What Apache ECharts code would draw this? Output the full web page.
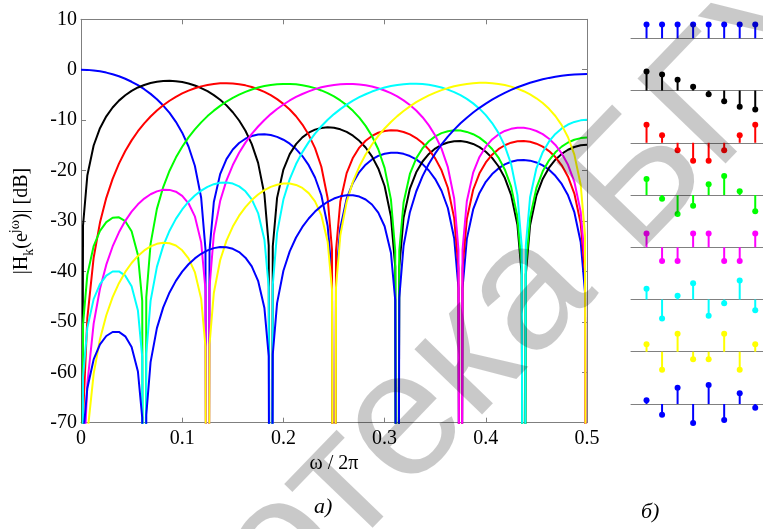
<!DOCTYPE html>
<html>
<head>
<meta charset="utf-8">
<script src="https://cdn.jsdelivr.net/npm/echarts@6/dist/echarts.min.js"></script>
<style>
html, body { margin: 0; padding: 0; background: #fff; }
#chart { width: 763px; height: 529px; }
</style>
</head>
<body>
<div id="chart"></div>
<script>
// normalized frequency w/2pi, extra points sit 0.002 either side of each notch
var freq = [0, 0.002,
  0.00625, 0.0125, 0.01875, 0.025, 0.03125, 0.0375, 0.04375, 0.05, 0.05625, 0.0605,
  0.0625, 0.0645,
  0.06875, 0.075, 0.08125, 0.0875, 0.09375, 0.1, 0.10625, 0.1125, 0.11875, 0.123,
  0.125, 0.127,
  0.13125, 0.1375, 0.14375, 0.15, 0.15625, 0.1625, 0.16875, 0.175, 0.18125, 0.1855,
  0.1875, 0.1895,
  0.19375, 0.2, 0.20625, 0.2125, 0.21875, 0.225, 0.23125, 0.2375, 0.24375, 0.248,
  0.25, 0.252,
  0.25625, 0.2625, 0.26875, 0.275, 0.28125, 0.2875, 0.29375, 0.3, 0.30625, 0.3105,
  0.3125, 0.3145,
  0.31875, 0.325, 0.33125, 0.3375, 0.34375, 0.35, 0.35625, 0.3625, 0.36875, 0.373,
  0.375, 0.377,
  0.38125, 0.3875, 0.39375, 0.4, 0.40625, 0.4125, 0.41875, 0.425, 0.43125, 0.4355,
  0.4375, 0.4395,
  0.44375, 0.45, 0.45625, 0.4625, 0.46875, 0.475, 0.48125, 0.4875, 0.49375, 0.498,
  0.5];

// |H_k| in dB, same layout as freq (null = no point there, -200 = notch floor)
var h0 = [0, null,
  -0.03, -0.14, -0.32, -0.57, -0.90, -1.30, -1.79, -2.39, -3.07, null,
  -3.86, null,
  -4.79, -5.86, -7.10, -8.57, -10.33, -12.48, -15.23, -19.04, -25.40, -35.57,
  -200, -35.83,
  -26.23, -20.70, -17.72, -15.82, -14.54, -13.68, -13.14, -12.86, -12.80, null,
  -12.95, null,
  -13.31, -13.88, -14.67, -15.74, -17.12, -18.93, -21.37, -24.90, -30.99, -40.97,
  -200, -41.08,
  -31.33, -25.58, -22.39, -20.30, -18.83, -17.80, -17.09, -16.66, -16.45, null,
  -16.46, null,
  -16.68, -17.12, -17.78, -18.72, -19.98, -21.68, -24.00, -27.42, -33.41, -43.33,
  -200, -43.37,
  -33.55, -27.71, -24.43, -22.24, -20.69, -19.57, -18.77, -18.26, -17.97, null,
  -17.89, null,
  -18.03, -18.39, -18.98, -19.84, -21.03, -22.65, -24.90, -28.25, -34.17, -44.04,
  -200];

var h1 = [-200, -30.87,
  -20.99, -15.03, -11.59, -9.24, -7.49, -6.13, -5.06, -4.19, -3.52, null,
  -3.02, null,
  -2.63, -2.38, -2.24, -2.20, -2.27, -2.44, -2.72, -3.13, -3.63, null,
  -4.25, null,
  -5.03, -5.96, -7.07, -8.43, -10.07, -12.11, -14.76, -18.48, -24.75, -34.85,
  -200, -35.06,
  -25.41, -19.80, -16.74, -14.76, -13.41, -12.49, -11.88, -11.54, -11.42, null,
  -11.52, null,
  -11.82, -12.34, -13.08, -14.10, -15.43, -17.19, -19.58, -23.06, -29.11, -39.06,
  -200, -39.13,
  -29.36, -23.57, -20.34, -18.20, -16.70, -15.63, -14.88, -14.42, -14.17, null,
  -14.14, null,
  -14.32, -14.72, -15.35, -16.26, -17.48, -19.14, -21.43, -24.81, -30.77, -40.67,
  -200, -40.69,
  -30.85, -24.97, -21.65, -19.43, -17.85, -16.70, -15.87, -15.32, -14.99, null,
  -14.88];

var h2 = [-200, -69.08,
  -49.28, -37.28, -30.31, -25.41, -21.65, -18.63, -16.13, -14.01, -12.20, null,
  -10.63, null,
  -9.27, -8.09, -7.04, -6.15, -5.37, -4.70, -4.14, -3.68, -3.30, null,
  -3.01, null,
  -2.81, -2.70, -2.67, -2.73, -2.87, -3.10, -3.42, -3.87, -4.40, null,
  -5.05, null,
  -5.84, -6.78, -7.89, -9.23, -10.87, -12.91, -15.54, -19.24, -25.50, -35.61,
  -200, -35.80,
  -26.13, -20.51, -17.44, -15.44, -14.08, -13.13, -12.50, -12.14, -12.00, null,
  -12.06, null,
  -12.34, -12.83, -13.55, -14.54, -15.85, -17.58, -19.95, -23.41, -29.43, -39.40,
  -200, -39.40,
  -29.63, -23.80, -20.54, -18.39, -16.85, -15.75, -14.98, -14.47, -14.19, null,
  -14.14, null,
  -14.30, -14.67, -15.25, -16.13, -17.32, -18.95, -21.21, -24.56, -30.47, -40.34,
  -200];

var h3 = [-200, -50.49,
  -40.68, -34.96, -31.95, -30.23, -29.36, -29.27, -30.04, -32.05, -36.75, -45.83,
  -200, -45.14,
  -34.54, -27.60, -23.26, -20.03, -17.43, -15.27, -13.42, -11.84, -10.44, null,
  -9.20, null,
  -8.12, -7.17, -6.31, -5.58, -4.94, -4.39, -3.92, -3.54, -3.24, null,
  -3.02, null,
  -2.87, -2.81, -2.82, -2.89, -3.07, -3.32, -3.65, -4.11, -4.65, null,
  -5.30, null,
  -6.09, -7.03, -8.15, -9.49, -11.13, -13.15, -15.78, -19.47, -25.72, -35.90,
  -200, -35.90,
  -26.32, -20.67, -17.58, -15.57, -14.19, -13.22, -12.58, -12.19, -12.02, null,
  -12.07, null,
  -12.33, -12.79, -13.47, -14.45, -15.72, -17.42, -19.77, -23.19, -29.17, -39.11,
  -200, -39.11,
  -29.31, -23.45, -20.15, -17.96, -16.38, -15.25, -14.43, -13.89, -13.56, null,
  -13.46];

var h4 = [-200, -82.05,
  -62.29, -50.34, -43.44, -38.66, -35.05, -32.24, -29.97, -28.15, -26.69, null,
  -25.55, null,
  -24.69, -24.12, -23.82, -23.83, -24.19, -25.02, -26.49, -29.08, -34.24, -43.59,
  -200, -43.11,
  -32.72, -26.05, -21.94, -18.90, -16.48, -14.46, -12.73, -11.26, -9.96, null,
  -8.80, null,
  -7.79, -6.90, -6.10, -5.40, -4.81, -4.29, -3.85, -3.49, -3.21, null,
  -3.01, null,
  -2.87, -2.81, -2.83, -2.92, -3.10, -3.34, -3.68, -4.12, -4.65, null,
  -5.29, null,
  -6.08, -7.00, -8.09, -9.42, -11.04, -13.04, -15.66, -19.33, -25.54, -35.70,
  -200, -35.70,
  -26.09, -20.41, -17.29, -15.26, -13.83, -12.83, -12.15, -11.72, -11.51, null,
  -11.52, null,
  -11.73, -12.15, -12.78, -13.70, -14.92, -16.58, -18.86, -22.23, -28.15, -38.01,
  -200];

var h5 = [-200, -61.01,
  -51.20, -45.50, -42.51, -40.83, -40.01, -40.00, -40.84, -42.95, -47.77, -56.94,
  -200, -56.33,
  -45.85, -39.09, -34.94, -31.92, -29.58, -27.71, -26.17, -24.96, -23.98, null,
  -23.22, null,
  -22.70, -22.41, -22.36, -22.58, -23.13, -24.11, -25.72, -28.43, -33.70, -43.12,
  -200, -42.70,
  -32.36, -25.75, -21.70, -18.71, -16.34, -14.36, -12.67, -11.21, -9.93, null,
  -8.80, null,
  -7.81, -6.93, -6.13, -5.45, -4.86, -4.33, -3.90, -3.53, -3.23, null,
  -3.01, null,
  -2.86, -2.78, -2.78, -2.85, -3.00, -3.22, -3.53, -3.95, -4.44, null,
  -5.05, null,
  -5.79, -6.67, -7.72, -9.01, -10.57, -12.53, -15.09, -18.70, -24.86, -34.96,
  -200, -34.96,
  -25.29, -19.55, -16.35, -14.23, -12.73, -11.65, -10.87, -10.35, -10.04, null,
  -9.94];

var h6 = [-200, -92.04,
  -72.27, -60.33, -53.45, -48.69, -45.11, -42.33, -40.10, -38.33, -36.92, null,
  -35.83, null,
  -35.03, -34.53, -34.31, -34.41, -34.87, -35.81, -37.40, -40.13, -45.44, -54.89,
  -200, -54.52,
  -44.27, -37.79, -33.89, -31.10, -28.95, -27.24, -25.85, -24.75, -23.88, null,
  -23.23, null,
  -22.80, -22.58, -22.58, -22.85, -23.45, -24.47, -26.12, -28.85, -34.13, -43.57,
  -200, -43.16,
  -32.82, -26.22, -22.18, -19.20, -16.82, -14.83, -13.13, -11.66, -10.36, null,
  -9.20, null,
  -8.18, -7.27, -6.44, -5.72, -5.09, -4.53, -4.05, -3.64, -3.29, null,
  -3.02, null,
  -2.81, -2.67, -2.60, -2.60, -2.67, -2.81, -3.03, -3.35, -3.75, null,
  -4.26, null,
  -4.90, -5.67, -6.60, -7.75, -9.18, -10.99, -13.39, -16.83, -22.80, -32.70,
  -200];

var h7 = [-200, -72.96,
  -63.16, -57.46, -54.48, -52.81, -52.01, -52.00, -52.87, -55.00, -59.84, -69.01,
  -200, -68.47,
  -57.98, -51.24, -47.13, -44.17, -41.87, -40.05, -38.58, -37.42, -36.50, null,
  -35.82, null,
  -35.38, -35.17, -35.19, -35.52, -36.17, -37.27, -39.01, -41.86, -47.27, -56.79,
  -200, -56.48,
  -46.28, -39.87, -36.03, -33.28, -31.17, -29.50, -28.13, -27.05, -26.19, null,
  -25.55, null,
  -25.11, -24.89, -24.89, -25.15, -25.73, -26.73, -28.35, -31.05, -36.30, -45.70,
  -200, -45.25,
  -34.90, -28.25, -24.15, -21.10, -18.66, -16.60, -14.82, -13.27, -11.88, null,
  -10.63, null,
  -9.51, -8.49, -7.55, -6.71, -5.94, -5.23, -4.60, -4.01, -3.48, null,
  -3.02, null,
  -2.59, -2.22, -1.90, -1.62, -1.39, -1.19, -1.04, -0.95, -0.88, null,
  -0.85];

// impulse responses (right panel), n = 0..7
var nIdx = [0, 1, 2, 3, 4, 5, 6, 7];
var g0 = [0.354, 0.354, 0.354, 0.354, 0.354, 0.354, 0.354, 0.354];
var g1 = [0.490, 0.416, 0.278, 0.098, -0.098, -0.278, -0.416, -0.490];
var g2 = [0.462, 0.191, -0.191, -0.462, -0.462, -0.191, 0.191, 0.462];
var g3 = [0.416, -0.098, -0.490, -0.278, 0.278, 0.490, 0.098, -0.416];
var g4 = [0.354, -0.354, -0.354, 0.354, 0.354, -0.354, -0.354, 0.354];
var g5 = [0.278, -0.490, 0.098, 0.416, -0.416, -0.098, 0.490, -0.278];
var g6 = [0.191, -0.462, 0.462, -0.191, -0.191, 0.462, -0.462, 0.191];
var g7 = [0.098, -0.278, 0.416, -0.490, 0.490, -0.416, 0.278, -0.098];

var xTicks = [0, 0.1, 0.2, 0.3, 0.4, 0.5];
var yTicks = [-70, -60, -50, -40, -30, -20, -10, 0, 10];

var colors = ['#0000ff', '#000000', '#ff0000', '#00ff00', '#ff00ff', '#00ffff', '#ffff00', '#0000ff'];
var responses = [h0, h1, h2, h3, h4, h5, h6, h7];
var impulses = [g0, g1, g2, g3, g4, g5, g6, g7];

var serif = '"Liberation Serif", "Times New Roman", serif';
var axisGray = '#7f7f7f';

function points(h) {
  var out = [];
  for (var j = 0; j < freq.length; j++) {
    if (h[j] !== null) out.push([freq[j], h[j]]);
  }
  return out;
}

var chart = echarts.init(document.getElementById('chart'), null, { renderer: 'canvas' });

var grid = [{ left: 79.5, top: 19.3, width: 507.5, height: 403.4 }];
var xAxis = [
  {
    gridIndex: 0, type: 'value', position: 'bottom',
    min: xTicks[0], max: xTicks[xTicks.length - 1], interval: 0.1,
    axisLine: { onZero: false, lineStyle: { color: axisGray, width: 1 } },
    axisTick: { inside: true, length: 5, lineStyle: { color: axisGray } },
    axisLabel: { color: '#000', fontFamily: serif, fontSize: 20, margin: 6 },
    splitLine: { show: false },
    name: 'ω / 2π', nameLocation: 'middle', nameGap: 22,
    nameTextStyle: { color: '#000', fontFamily: serif, fontSize: 20 }
  },
  {
    gridIndex: 0, type: 'value', position: 'top',
    min: xTicks[0], max: xTicks[xTicks.length - 1], interval: 0.1,
    axisLine: { onZero: false, lineStyle: { color: axisGray, width: 1 } },
    axisTick: { inside: true, length: 5, lineStyle: { color: axisGray } },
    axisLabel: { show: false },
    splitLine: { show: false }
  }
];
var yAxis = [
  {
    gridIndex: 0, type: 'value', position: 'left',
    min: yTicks[0], max: yTicks[yTicks.length - 1], interval: 10,
    axisLine: { show: true, onZero: false, lineStyle: { color: axisGray, width: 1 } },
    axisTick: { show: true, inside: true, length: 5, lineStyle: { color: axisGray } },
    axisLabel: { color: '#000', fontFamily: serif, fontSize: 20, margin: 4 },
    splitLine: { show: false },
    name: '{a||H}{s|k}{a|(e}{p|jω}{a|)| [dB]}',
    nameLocation: 'middle', nameGap: 45, nameRotate: 90,
    nameTextStyle: {
      color: '#000', fontFamily: serif, fontSize: 20, lineHeight: 28,
      rich: {
        a: { fontFamily: serif, fontSize: 20, color: '#000', lineHeight: 28 },
        s: { fontFamily: serif, fontSize: 14, color: '#000', verticalAlign: 'bottom', lineHeight: 28 },
        p: { fontFamily: serif, fontSize: 14, color: '#000', verticalAlign: 'top', lineHeight: 28 }
      }
    }
  },
  {
    gridIndex: 0, type: 'value', position: 'right',
    min: yTicks[0], max: yTicks[yTicks.length - 1], interval: 10,
    axisLine: { show: true, onZero: false, lineStyle: { color: axisGray, width: 1 } },
    axisTick: { show: true, inside: true, length: 5, lineStyle: { color: axisGray } },
    axisLabel: { show: false },
    splitLine: { show: false }
  }
];

var series = [];
responses.forEach(function (h, k) {
  series.push({
    type: 'line', xAxisIndex: 0, yAxisIndex: 0,
    data: points(h), symbol: 'none', clip: true, silent: true,
    lineStyle: { color: colors[k], width: 2 },
    itemStyle: { color: colors[k] }
  });
});

// small stem plots on the right, one grid per filter
// (main grid owns axes 0 and 1, so the small ones start at axis index 2)
impulses.forEach(function (g, k) {
  var base = 38.3 + 52.24 * k;
  var gi = k + 1;
  var ai = k + 2;
  grid.push({ left: 631, width: 132, top: base - 26, height: 52 });
  xAxis.push({
    gridIndex: gi, type: 'value', min: -1, max: 7.5,
    axisLine: { onZero: true, lineStyle: { color: '#808080', width: 1 } },
    axisTick: { show: false }, axisLabel: { show: false }, splitLine: { show: false }
  });
  yAxis.push({
    gridIndex: gi, type: 'value', min: -0.67, max: 0.67, show: false,
    splitLine: { show: false }
  });
  var d = nIdx.map(function (n, j) { return [n, g[j]]; });
  series.push({
    type: 'bar', xAxisIndex: ai, yAxisIndex: ai, data: d, barWidth: 2,
    silent: true, itemStyle: { color: colors[k] }
  });
  series.push({
    type: 'scatter', xAxisIndex: ai, yAxisIndex: ai, data: d, symbolSize: 6,
    silent: true, itemStyle: { color: colors[k], opacity: 1 }
  });
});

// library watermark running diagonally across the page
var markAngle = 46 * Math.PI / 180;
var markFont = '178px "Liberation Sans", Arial, sans-serif';
var markFill = 'rgba(0,0,0,0.21)';

chart.setOption({
  animation: false,
  backgroundColor: '#fff',
  grid: grid,
  xAxis: xAxis,
  yAxis: yAxis,
  series: series,
  graphic: [
    { type: 'text', left: 314, top: 496, style: { text: 'а)', font: 'italic 22px ' + serif, fill: '#000' } },
    { type: 'text', left: 641, top: 501, style: { text: 'б)', font: 'italic 22px ' + serif, fill: '#000' } },
    {
      type: 'text', x: 564, y: 259, rotation: markAngle, z: 100, silent: true,
      style: { text: 'Библиотека', font: markFont, fill: markFill, align: 'right', verticalAlign: 'middle' }
    },
    {
      type: 'text', x: 599, y: 224, rotation: markAngle, z: 100, silent: true,
      style: { text: 'БГУИР', font: markFont, fill: markFill, align: 'left', verticalAlign: 'middle' }
    }
  ]
});
</script>
</body>
</html>
